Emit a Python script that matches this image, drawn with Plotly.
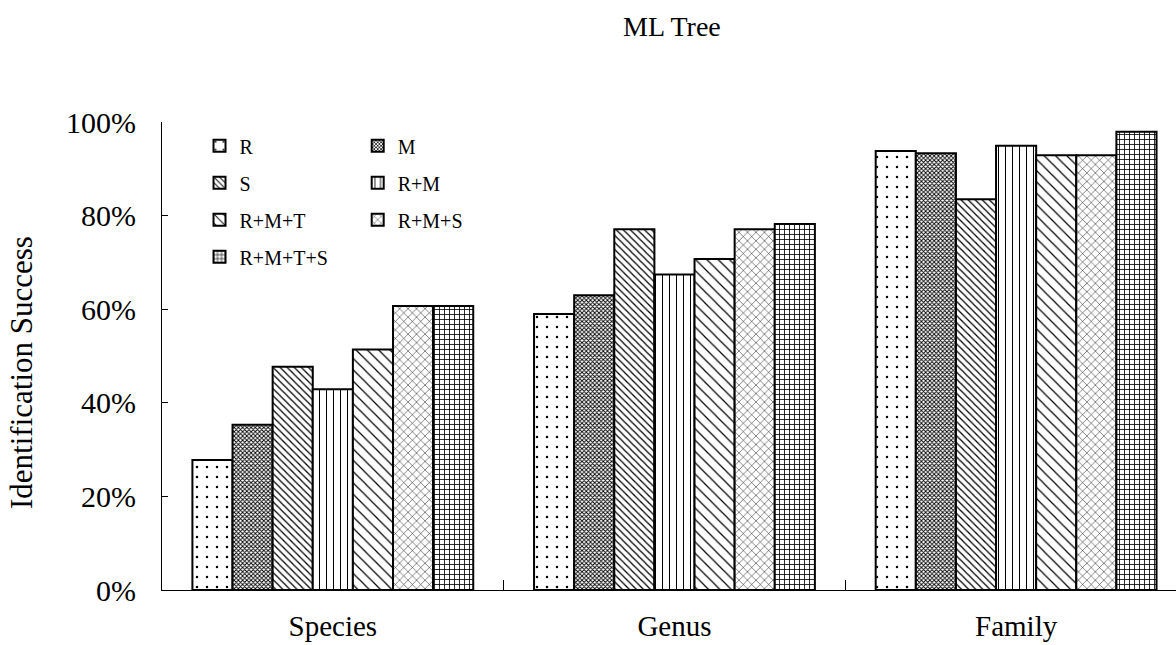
import plotly.graph_objects as go

categories = ["Species", "Genus", "Family"]
series_names = ["R", "M", "S", "R+M", "R+M+T", "R+M+S", "R+M+T+S"]
vals_R = [0.278, 0.590, 0.938]
vals_M = [0.353, 0.630, 0.933]
vals_S = [0.477, 0.771, 0.835]
vals_RM = [0.429, 0.674, 0.949]
vals_RMT = [0.514, 0.707, 0.929]
vals_RMS = [0.607, 0.771, 0.929]
vals_RMTS = [0.607, 0.782, 0.979]
y_ticks = [0, 0.2, 0.4, 0.6, 0.8, 1.0]

series_values = [vals_R, vals_M, vals_S, vals_RM, vals_RMT, vals_RMS, vals_RMTS]
patterns = [
    dict(shape=".", size=10, solidity=0.05),
    dict(shape="x", size=3, solidity=0.5),
    dict(shape="\\", size=5, solidity=0.25),
    dict(shape="|", size=7, solidity=0.15),
    dict(shape="\\", size=8, solidity=0.15),
    dict(shape="x", size=6, solidity=0.15),
    dict(shape="+", size=5, solidity=0.3),
]
legend_ids = ["legend", "legend2", "legend", "legend2", "legend", "legend2", "legend"]

FONT = "Liberation Serif"

fig = go.Figure()
for name, vals, pat, lg in zip(series_names, series_values, patterns, legend_ids):
    fig.add_trace(go.Bar(
        x=categories, y=vals, name=name, legend=lg, legendgroup=name,
        marker=dict(color="white", line=dict(color="black", width=2),
                    pattern=dict(fgcolor="black", bgcolor="white", fillmode="replace", **pat)),
    ))

legend_common = dict(font=dict(family=FONT, size=20, color="black"), bgcolor="rgba(0,0,0,0)",
                     orientation="v", tracegroupgap=8, itemwidth=30,
                     yanchor="top", xanchor="left", y=0.991)

fig.update_layout(
    width=1176, height=645,
    margin=dict(l=162, r=0, t=122, b=55, autoexpand=False),
    paper_bgcolor="white", plot_bgcolor="white",
    barmode="group", bargap=0.178, bargroupgap=0,
    font=dict(family=FONT, color="black"),
    legend=dict(x=0.037, **legend_common),
    legend2=dict(x=0.193, **legend_common),
    xaxis=dict(type="category", range=[-0.5, 2.468], showline=True, linecolor="black", linewidth=1,
               ticks="inside", tickson="boundaries", ticklen=10, tickcolor="black",
               tickfont=dict(family=FONT, size=29, color="black"), ticklabelstandoff=10,
               showgrid=False, zeroline=False, automargin=False),
    yaxis=dict(range=[0, 1], tickvals=y_ticks, tickformat=".0%", showline=True, linecolor="black",
               linewidth=1, ticks="inside", ticklen=6, tickcolor="black",
               tickfont=dict(family=FONT, size=30, color="black"), ticklabelstandoff=19,
               showgrid=False, zeroline=False, automargin=False),
    annotations=[
        dict(text="ML Tree", xref="paper", yref="paper", x=(672 - 162) / 1014, y=(590 - 26) / 468,
             xanchor="center", yanchor="middle", showarrow=False,
             font=dict(family=FONT, size=28, color="black")),
        dict(text="Identification Success", xref="paper", yref="paper", x=(21 - 162) / 1014,
             y=(590 - 373) / 468, xanchor="center", yanchor="middle", textangle=-90, showarrow=False,
             font=dict(family=FONT, size=31, color="black")),
    ],
)

fig.write_html("out.html", config={"displayModeBar": False},
               post_script="document.body.style.margin='0';document.body.style.overflow='hidden';")
